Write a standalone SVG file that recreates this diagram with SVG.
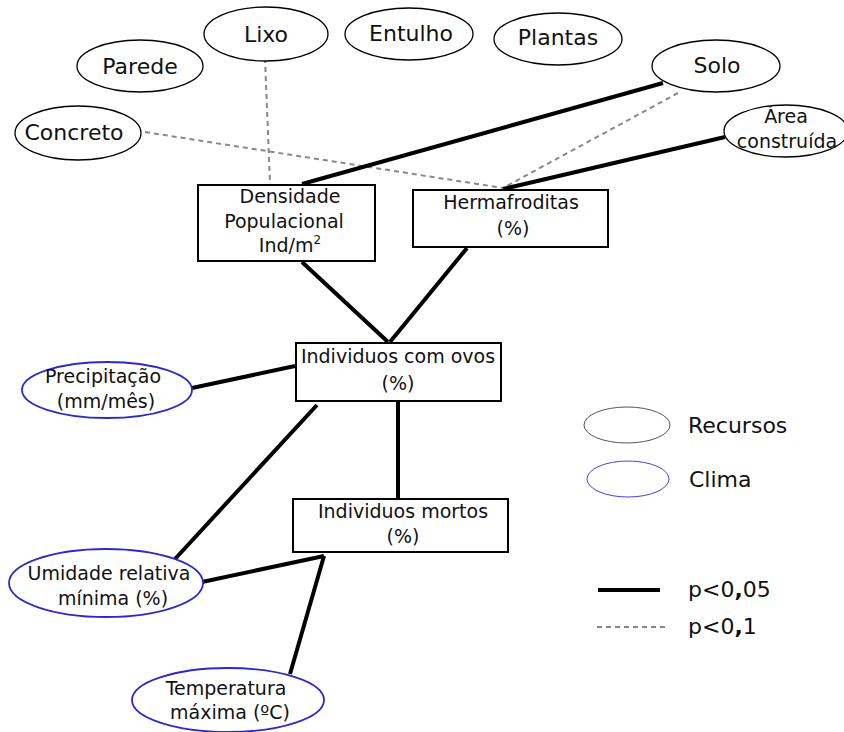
<svg xmlns="http://www.w3.org/2000/svg" width="844" height="732" viewBox="0 0 844 732">
<style>
text{font-family:"DejaVu Sans","Verdana",sans-serif;fill:#111;text-anchor:middle}
.res{fill:#fff;stroke:#000;stroke-width:1.3}
.cli{fill:#fff;stroke:#2a2acc;stroke-width:1.8}
.box{fill:#fff;stroke:#000;stroke-width:2}
.t22{font-size:22px}
.t19{font-size:19px}
.s{stroke:#000;stroke-width:4;fill:none}
.d{stroke:#888;stroke-width:2;stroke-dasharray:5 4;fill:none}
</style>
<rect width="844" height="732" fill="#fff"/>
<g id="connectors">
<line class="d" x1="265" y1="58" x2="270" y2="184"/>
<line class="d" x1="145" y1="132" x2="503" y2="188"/>
<line class="d" x1="678" y1="93" x2="503" y2="188"/>
<line class="s" x1="663" y1="83" x2="302" y2="184"/>
<line class="s" x1="725" y1="137" x2="503" y2="189"/>
<line class="s" x1="302" y1="262" x2="388" y2="342"/>
<line class="s" x1="467" y1="248" x2="390" y2="342"/>
<line class="s" x1="192" y1="388" x2="295" y2="366"/>
<line class="s" x1="175" y1="559" x2="317" y2="405"/>
<line class="s" x1="398" y1="402" x2="398" y2="499"/>
<line class="s" x1="202" y1="582" x2="324" y2="556"/>
<line class="s" x1="290" y1="674" x2="324" y2="556"/>
</g>
<g id="parede"><ellipse class="res" cx="140" cy="66" rx="63" ry="26"/><text class="t22" x="140" y="74">Parede</text></g>
<g id="lixo"><ellipse class="res" cx="266" cy="34" rx="62" ry="27"/><text class="t22" x="266" y="42">Lixo</text></g>
<g id="entulho"><ellipse class="res" cx="409" cy="34" rx="64" ry="26"/><text class="t22" x="411" y="41">Entulho</text></g>
<g id="plantas"><ellipse class="res" cx="558" cy="39" rx="64" ry="26"/><text class="t22" x="558" y="45">Plantas</text></g>
<g id="solo"><ellipse class="res" cx="716" cy="66" rx="64" ry="26"/><text class="t22" x="717" y="73">Solo</text></g>
<g id="concreto"><ellipse class="res" cx="78" cy="133" rx="63" ry="27"/><text class="t22" x="74" y="140">Concreto</text></g>
<g id="area"><ellipse class="res" cx="786" cy="131" rx="62" ry="26"/><text class="t19" x="786" y="123">Área</text><text class="t19" x="787" y="148">construída</text></g>
<g id="densidade"><rect class="box" x="198" y="185" width="177" height="76"/><text class="t19" x="290" y="203">Densidade</text><text class="t19" x="284" y="228">Populacional</text><text class="t19" x="290" y="252">Ind/m<tspan font-size="12" dy="-8">2</tspan></text></g>
<g id="hermafroditas"><rect class="box" x="413" y="190" width="195" height="57"/><text class="t19" x="511" y="209">Hermafroditas</text><text class="t19" x="513" y="235">(%)</text></g>
<g id="ovos"><rect class="box" x="296" y="343" width="205" height="58"/><text class="t19" x="398" y="363">Individuos com ovos</text><text class="t19" x="398" y="390">(%)</text></g>
<g id="mortos"><rect class="box" x="293" y="499" width="215" height="53"/><text class="t19" x="403" y="518">Individuos mortos</text><text class="t19" x="403" y="543">(%)</text></g>
<g id="precipitacao"><ellipse class="cli" cx="107" cy="390" rx="85" ry="28"/><text class="t19" x="103" y="383">Precipitação</text><text class="t19" x="106" y="408">(mm/mês)</text></g>
<g id="umidade"><ellipse class="cli" cx="106" cy="583" rx="97" ry="34"/><text class="t19" x="109" y="580">Umidade relativa</text><text class="t19" x="113" y="605">mínima (%)</text></g>
<g id="temperatura"><ellipse class="cli" cx="228" cy="700" rx="96" ry="32"/><text class="t19" x="226" y="695">Temperatura</text><text class="t19" x="230" y="719">máxima (ºC)</text></g>
<g id="legend">
<ellipse cx="627" cy="425" rx="43" ry="18" fill="#fff" stroke="#555" stroke-width="1"/>
<text class="t22" x="688" y="433" text-anchor="start" style="text-anchor:start">Recursos</text>
<ellipse cx="628" cy="479" rx="41" ry="18" fill="#fff" stroke="#4444dd" stroke-width="1"/>
<text class="t22" x="689" y="487" style="text-anchor:start">Clima</text>
<line class="s" x1="598" y1="590" x2="660" y2="590"/>
<line class="d" x1="597" y1="627" x2="665" y2="627"/>
<text class="t22" x="688" y="597" style="text-anchor:start">p&lt;0<tspan font-weight="bold">,</tspan>05</text>
<text class="t22" x="688" y="634" style="text-anchor:start">p&lt;0<tspan font-weight="bold">,</tspan>1</text>
</g>
</svg>
